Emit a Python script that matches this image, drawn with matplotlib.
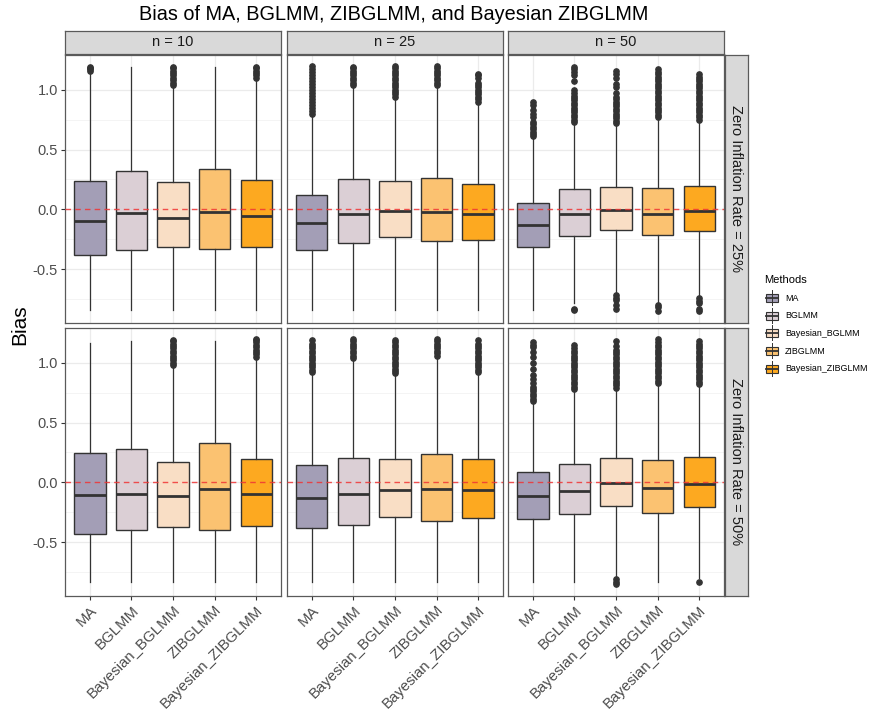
import matplotlib
matplotlib.use("Agg")
import matplotlib.pyplot as plt
from matplotlib.patches import Rectangle

plt.rcParams['font.family'] = ['Liberation Sans', 'DejaVu Sans']

# methods and fill colours
methods = ['MA', 'BGLMM', 'Bayesian_BGLMM', 'ZIBGLMM', 'Bayesian_ZIBGLMM']
fills = ['#A39EB6', '#DBCFD5', '#F9DEC5', '#FBC271', '#FDA920']
sizes = ['n = 10', 'n = 25', 'n = 50']
rates = ['Zero Inflation Rate = 25%', 'Zero Inflation Rate = 50%']

# box statistics: (whislo, q1, med, q3, whishi)
# rows = zero inflation rate, cols = n, inner = methods
stats_25_n10 = [(-0.845, -0.385, -0.10, 0.234, 1.15),
                (-0.845, -0.337, -0.033, 0.324, 1.186),
                (-0.845, -0.318, -0.07, 0.226, 1.03),
                (-0.845, -0.332, -0.022, 0.34, 1.186),
                (-0.845, -0.312, -0.059, 0.248, 1.09)]
stats_25_n25 = [(-0.845, -0.343, -0.117, 0.117, 0.78),
                (-0.845, -0.282, -0.039, 0.251, 1.03),
                (-0.845, -0.234, -0.017, 0.237, 0.93),
                (-0.845, -0.265, -0.022, 0.259, 1.03),
                (-0.845, -0.257, -0.039, 0.209, 0.89)]
stats_25_n50 = [(-0.845, -0.318, -0.128, 0.056, 0.60),
                (-0.78, -0.22, -0.039, 0.167, 0.72),
                (-0.70, -0.173, -0.003, 0.19, 0.71),
                (-0.78, -0.215, -0.039, 0.18, 0.76),
                (-0.72, -0.181, -0.011, 0.192, 0.74)]
stats_50_n10 = [(-0.836, -0.428, -0.108, 0.247, 1.164),
                (-0.836, -0.397, -0.094, 0.281, 1.183),
                (-0.836, -0.372, -0.111, 0.169, 0.97),
                (-0.836, -0.397, -0.058, 0.331, 1.183),
                (-0.836, -0.369, -0.094, 0.197, 1.04)]
stats_50_n25 = [(-0.836, -0.381, -0.131, 0.142, 0.91),
                (-0.836, -0.358, -0.10, 0.206, 1.03),
                (-0.836, -0.286, -0.061, 0.194, 0.90),
                (-0.836, -0.322, -0.056, 0.233, 1.05),
                (-0.836, -0.294, -0.067, 0.197, 0.915)]
stats_50_n50 = [(-0.836, -0.308, -0.117, 0.089, 0.67),
                (-0.836, -0.267, -0.075, 0.153, 0.77),
                (-0.79, -0.197, -0.006, 0.206, 0.78),
                (-0.836, -0.253, -0.05, 0.186, 0.82),
                (-0.80, -0.206, -0.011, 0.211, 0.81)]

# outliers
fliers_25_n10 = [[1.16, 1.17, 1.18, 1.19],
                 [],
                 [1.04, 1.06, 1.08, 1.10, 1.12, 1.14, 1.16, 1.18, 1.19],
                 [],
                 [1.10, 1.12, 1.14, 1.16, 1.18, 1.19]]
fliers_25_n25 = [[0.80, 0.82, 0.85, 0.87, 0.90, 0.92, 0.95, 0.97, 1.00, 1.02,
                  1.05, 1.07, 1.10, 1.12, 1.15, 1.17, 1.20],
                 [1.04, 1.06, 1.08, 1.10, 1.12, 1.14, 1.16, 1.18, 1.19],
                 [0.94, 0.96, 0.98, 1.00, 1.02, 1.04, 1.06, 1.08, 1.10, 1.12,
                  1.14, 1.16, 1.18, 1.20],
                 [1.04, 1.06, 1.08, 1.10, 1.12, 1.14, 1.16, 1.18, 1.20],
                 [0.90, 0.92, 0.94, 0.96, 0.98, 1.00, 1.02, 1.04, 1.06,
                  1.10, 1.12, 1.135]]
fliers_25_n50 = [[0.61, 0.63, 0.65, 0.67, 0.69, 0.71, 0.73, 0.77, 0.80,
                  0.83, 0.87, 0.90],
                 [0.73, 0.75, 0.77, 0.79, 0.81, 0.83, 0.85, 0.87, 0.89, 0.91,
                  0.93, 0.95, 0.97, 1.00, 1.07, 1.12, 1.15, 1.17, 1.19,
                  -0.83, -0.845],
                 [0.72, 0.74, 0.76, 0.78, 0.80, 0.82, 0.84, 0.86, 0.88, 0.90,
                  0.92, 0.94, 0.97, 1.02, 1.05, 1.10, 1.13, 1.155,
                  -0.72, -0.74, -0.76, -0.80, -0.83],
                 [0.77, 0.79, 0.81, 0.83, 0.85, 0.87, 0.89, 0.91, 0.93, 0.95,
                  0.97, 0.99, 1.01, 1.03, 1.05, 1.07, 1.09, 1.11, 1.13, 1.15,
                  1.177, -0.80, -0.82, -0.85],
                 [0.75, 0.77, 0.79, 0.81, 0.83, 0.85, 0.87, 0.89, 0.91, 0.93,
                  0.95, 0.97, 0.99, 1.01, 1.03, 1.05, 1.07, 1.09, 1.11, 1.135,
                  -0.745, -0.765, -0.785, -0.83, -0.853]]
fliers_50_n10 = [[],
                 [],
                 [0.98, 1.00, 1.02, 1.04, 1.06, 1.08, 1.10, 1.12, 1.14, 1.16,
                  1.18, 1.19],
                 [],
                 [1.05, 1.07, 1.09, 1.11, 1.13, 1.15, 1.17, 1.19, 1.20]]
fliers_50_n25 = [[0.92, 0.94, 0.96, 0.98, 1.00, 1.02, 1.04, 1.06, 1.08, 1.10,
                  1.12, 1.14, 1.16, 1.186],
                 [1.04, 1.06, 1.08, 1.10, 1.12, 1.14, 1.16, 1.18, 1.20],
                 [0.91, 0.93, 0.95, 0.97, 0.99, 1.01, 1.03, 1.05, 1.07, 1.09,
                  1.11, 1.13, 1.15, 1.17, 1.186],
                 [1.06, 1.08, 1.10, 1.12, 1.14, 1.16, 1.18, 1.20],
                 [0.92, 0.94, 0.96, 0.98, 1.00, 1.02, 1.04, 1.06, 1.08, 1.10,
                  1.12, 1.14, 1.16, 1.186]]
fliers_50_n50 = [[0.68, 0.70, 0.72, 0.74, 0.76, 0.78, 0.80, 0.83, 0.86, 0.90,
                  0.95, 1.00, 1.05, 1.09, 1.13, 1.15, 1.17],
                 [0.78, 0.80, 0.82, 0.84, 0.86, 0.88, 0.90, 0.92, 0.94, 0.96,
                  0.98, 1.00, 1.02, 1.04, 1.06, 1.08, 1.10, 1.12, 1.15],
                 [0.79, 0.81, 0.83, 0.85, 0.87, 0.89, 0.91, 0.93, 0.95, 0.97,
                  0.99, 1.01, 1.03, 1.05, 1.07, 1.09, 1.11, 1.14, 1.178,
                  -0.81, -0.83, -0.85],
                 [0.83, 0.85, 0.87, 0.89, 0.91, 0.93, 0.95, 0.97, 0.99, 1.01,
                  1.03, 1.05, 1.07, 1.09, 1.11, 1.13, 1.15, 1.17, 1.197],
                 [0.82, 0.84, 0.86, 0.88, 0.90, 0.92, 0.94, 0.96, 0.98, 1.00,
                  1.02, 1.04, 1.06, 1.08, 1.10, 1.12, 1.14, 1.16, 1.178,
                  -0.836]]

all_stats = [[stats_25_n10, stats_25_n25, stats_25_n50],
             [stats_50_n10, stats_50_n25, stats_50_n50]]
all_fliers = [[fliers_25_n10, fliers_25_n25, fliers_25_n50],
              [fliers_50_n10, fliers_50_n25, fliers_50_n50]]

yticks = [-0.5, 0.0, 0.5, 1.0]
yminor = [-0.75, -0.25, 0.25, 0.75]

W, H = 870, 711
fig = plt.figure(figsize=(8.7, 7.11), dpi=100)

col_x = [65, 287, 508]
row_y = [55, 328]
pw, ph = 216, 268
edge = '#333333'
border = '#5a5a5a'

for r in range(2):
    for c in range(3):
        ax = fig.add_axes([col_x[c] / W, 1 - (row_y[r] + ph) / H, pw / W, ph / H])
        bxp_stats = []
        for st, fl in zip(all_stats[r][c], all_fliers[r][c]):
            lo, q1, med, q3, hi = st
            bxp_stats.append(dict(whislo=lo, q1=q1, med=med, q3=q3, whishi=hi, fliers=fl))
        bp = ax.bxp(bxp_stats, positions=range(1, 6), widths=0.75, patch_artist=True,
                    showcaps=False,
                    boxprops=dict(edgecolor=edge, linewidth=1.0),
                    medianprops=dict(color=edge, linewidth=2.0),
                    whiskerprops=dict(color=edge, linewidth=0.9),
                    flierprops=dict(marker='o', markersize=3.8, markerfacecolor=edge,
                                    markeredgecolor=edge, linestyle='none'),
                    zorder=3)
        for patch, col in zip(bp['boxes'], fills):
            patch.set_facecolor(col)
        ax.axhline(0, color='#F03535', linestyle=(0, (4, 3)), linewidth=1.0, alpha=0.85, zorder=4)

        ax.set_xlim(0.4, 5.6)
        ax.set_ylim(-0.95, 1.29)
        ax.set_yticks(yticks)
        ax.set_yticks(yminor, minor=True)
        ax.set_xticks(range(1, 6))
        ax.grid(True, which='major', color='#EBEBEB', linewidth=0.9, zorder=0)
        ax.grid(True, which='minor', axis='y', color='#F2F2F2', linewidth=0.6, zorder=0)
        ax.set_axisbelow(True)
        for s in ax.spines.values():
            s.set_color(border)
            s.set_linewidth(0.9)
        ax.tick_params(which='minor', length=0)
        ax.tick_params(which='major', length=3, color='#333333', labelsize=10.5,
                       labelcolor='#4D4D4D', pad=2)
        if c == 0:
            ax.set_yticklabels(['-0.5', '0.0', '0.5', '1.0'])
        else:
            ax.tick_params(axis='y', length=0, labelleft=False)
        if r == 1:
            ax.set_xticklabels(methods, rotation=45, ha='right', rotation_mode='anchor',
                               fontsize=10.8)
        else:
            ax.tick_params(axis='x', length=0, labelbottom=False)

        # top strips
        if r == 0:
            sax = fig.add_axes([col_x[c] / W, 1 - 54 / H, pw / W, 23 / H])
            sax.set_facecolor('#D9D9D9')
            sax.set_xticks([])
            sax.set_yticks([])
            for s in sax.spines.values():
                s.set_color(border)
                s.set_linewidth(0.9)
            sax.text(0.5, 0.5, sizes[c], ha='center', va='center', fontsize=10.5,
                     color='#1A1A1A', transform=sax.transAxes)
        # right strips
        if c == 2:
            sax = fig.add_axes([725 / W, 1 - (row_y[r] + ph) / H, 23 / W, ph / H])
            sax.set_facecolor('#D9D9D9')
            sax.set_xticks([])
            sax.set_yticks([])
            for s in sax.spines.values():
                s.set_color(border)
                s.set_linewidth(0.9)
            sax.text(0.5, 0.5, rates[r], ha='center', va='center', fontsize=10.5,
                     rotation=-90, color='#1A1A1A', transform=sax.transAxes)

fig.text(394 / W, 1 - 14 / H, 'Bias of MA, BGLMM, ZIBGLMM, and Bayesian ZIBGLMM',
         ha='center', va='center', fontsize=14.3)
fig.text(20 / W, 1 - 325 / H, 'Bias', ha='center', va='center', rotation=90, fontsize=15)

# legend with boxplot glyphs
fig.text(764 / W, 1 - 280 / H, 'Methods', ha='left', va='center', fontsize=8)
for i, (m, col) in enumerate(zip(methods, fills)):
    yc = 298 + i * 17.7
    lax = fig.add_axes([764 / W, 1 - (yc + 8) / H, 16 / W, 16 / H])
    lax.set_xlim(0, 1)
    lax.set_ylim(0, 1)
    lax.axis('off')
    lax.plot([0.5, 0.5], [0.0, 1.0], color=edge, linewidth=0.7)
    lax.add_patch(Rectangle((0.1, 0.25), 0.8, 0.5, facecolor=col, edgecolor=edge, linewidth=0.8))
    lax.plot([0.1, 0.9], [0.5, 0.5], color=edge, linewidth=1.3)
    fig.text(785 / W, 1 - yc / H, m, ha='left', va='center', fontsize=6.4)

fig.savefig('out.png', dpi=100)
